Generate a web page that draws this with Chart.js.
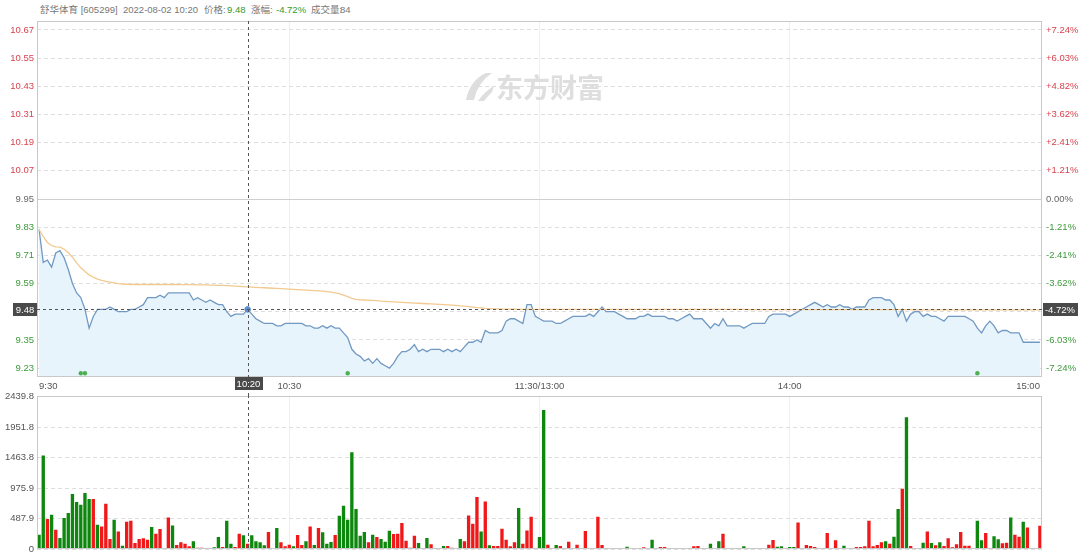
<!DOCTYPE html>
<html><head><meta charset="utf-8">
<script src="https://cdn.jsdelivr.net/npm/chart.js@4.4.0/dist/chart.umd.min.js"></script>
<style>
html,body{margin:0;padding:0;background:#fff;width:1080px;height:559px;overflow:hidden;font-family:'Liberation Sans','Noto Sans CJK SC',sans-serif;}
#hdr{position:absolute;left:0;top:0;width:1080px;height:20px;font-size:9.5px;color:#777;}
#hdr span{position:absolute;top:4px;line-height:12px;white-space:nowrap;}
#hdr .g{color:#2f9a2f}
#c1{position:absolute;left:0;top:0;}
#c2{position:absolute;left:0;top:387px;}
</style></head>
<body>
<div id="hdr">
<span style="left:40px">舒华体育 [605299]</span>
<span style="left:123px">2022-08-02 10:20</span>
<span style="left:204px">价格:</span><span class="g" style="left:227px">9.48</span>
<span style="left:251px">涨幅:</span><span class="g" style="left:276px">-4.72%</span>
<span style="left:311px">成交量:</span><span style="left:340px">84</span>
</div>
<canvas id="c1" width="1080" height="395"></canvas>
<canvas id="c2" width="1080" height="172"></canvas>
<script>
// ---------- DATA ----------
const prevClose = 9.95;
const priceTicks = [10.67,10.55,10.43,10.31,10.19,10.07,9.95,9.83,9.71,9.59,9.47,9.35,9.23];
const priceTickLabels = ['10.67','10.55','10.43','10.31','10.19','10.07','9.95','9.83','9.71','9.59','9.47','9.35','9.23'];
const pctTickLabels = ['+7.24%','+6.03%','+4.82%','+3.62%','+2.41%','+1.21%','0.00%','-1.21%','-2.41%','-3.62%','-4.82%','-6.03%','-7.24%'];
const volTicks = [0,487.9,975.9,1463.8,1951.8,2439.8];
const volTickLabels = ['0','487.9','975.9','1463.8','1951.8','2439.8'];
const xTickIdx = [0,60,120,180,240];
const xTickLabels = ['9:30','10:30','11:30/13:00','14:00','15:00'];

const price = [
9.82,9.68,9.69,9.66,9.72,9.73,9.70,9.65,9.59,9.55,
9.53,9.48,9.40,9.45,9.48,9.48,9.48,9.49,9.48,9.47,
9.47,9.47,9.48,9.48,9.49,9.50,9.53,9.53,9.53,9.54,
9.53,9.55,9.55,9.55,9.55,9.55,9.55,9.52,9.53,9.52,
9.51,9.52,9.51,9.50,9.50,9.47,9.45,9.46,9.46,9.46,
9.48,9.46,9.44,9.43,9.42,9.42,9.42,9.41,9.41,9.42,
9.42,9.42,9.42,9.42,9.41,9.41,9.40,9.40,9.41,9.40,
9.41,9.40,9.40,9.38,9.36,9.31,9.29,9.28,9.26,9.27,
9.25,9.27,9.25,9.24,9.23,9.25,9.28,9.30,9.30,9.31,
9.33,9.30,9.31,9.30,9.31,9.31,9.31,9.30,9.31,9.30,
9.31,9.30,9.32,9.34,9.34,9.35,9.34,9.39,9.38,9.38,
9.38,9.39,9.43,9.44,9.44,9.43,9.42,9.50,9.50,9.45,
9.44,9.43,9.43,9.43,9.42,9.42,9.43,9.44,9.45,9.45,
9.45,9.45,9.46,9.45,9.47,9.49,9.47,9.47,9.47,9.46,
9.45,9.44,9.44,9.44,9.45,9.45,9.46,9.45,9.45,9.45,
9.45,9.44,9.44,9.43,9.44,9.45,9.46,9.44,9.44,9.44,
9.42,9.40,9.42,9.41,9.44,9.41,9.41,9.41,9.41,9.40,
9.41,9.42,9.42,9.42,9.42,9.45,9.46,9.46,9.46,9.46,
9.45,9.46,9.47,9.48,9.49,9.50,9.51,9.50,9.49,9.50,
9.49,9.49,9.50,9.49,9.49,9.48,9.49,9.49,9.49,9.52,
9.53,9.53,9.53,9.52,9.52,9.50,9.45,9.48,9.43,9.46,
9.47,9.47,9.45,9.46,9.45,9.45,9.44,9.43,9.45,9.45,
9.45,9.45,9.45,9.44,9.43,9.40,9.38,9.41,9.43,9.41,
9.38,9.39,9.39,9.38,9.38,9.38,9.34,9.34,9.34,9.34,
9.34];

const avgPrice = [
9.82,9.79,9.765,9.752,9.746,9.745,9.736,9.722,9.702,9.678,
9.657,9.641,9.627,9.617,9.609,9.604,9.599,9.596,9.593,9.590,
9.588,9.587,9.586,9.586,9.586,9.586,9.586,9.586,9.586,9.586,
9.586,9.586,9.586,9.586,9.585,9.585,9.585,9.585,9.584,9.584,
9.584,9.583,9.583,9.582,9.582,9.581,9.580,9.579,9.578,9.577,
9.576,9.575,9.574,9.573,9.572,9.571,9.570,9.569,9.568,9.567,
9.566,9.565,9.564,9.563,9.562,9.561,9.560,9.559,9.558,9.556,
9.553,9.550,9.547,9.541,9.534,9.527,9.523,9.521,9.520,9.519,
9.518,9.517,9.515,9.514,9.513,9.512,9.511,9.510,9.509,9.508,
9.507,9.506,9.505,9.504,9.503,9.502,9.501,9.500,9.499,9.498,
9.497,9.495,9.494,9.492,9.490,9.487,9.486,9.484,9.483,9.482,
9.482,9.481,9.481,9.481,9.481,9.480,9.480,9.480,9.480,9.480,
9.480,9.480,9.480,9.480,9.480,9.480,9.480,9.480,9.480,9.480,
9.480,9.480,9.480,9.480,9.480,9.480,9.480,9.480,9.480,9.480,
9.480,9.480,9.480,9.480,9.480,9.480,9.480,9.480,9.480,9.480,
9.480,9.480,9.480,9.480,9.480,9.480,9.480,9.480,9.480,9.480,
9.480,9.480,9.480,9.480,9.480,9.480,9.480,9.480,9.480,9.480,
9.479,9.479,9.479,9.479,9.479,9.479,9.479,9.479,9.479,9.479,
9.479,9.479,9.479,9.479,9.479,9.479,9.479,9.479,9.479,9.479,
9.479,9.479,9.479,9.479,9.479,9.479,9.479,9.479,9.479,9.479,
9.479,9.479,9.479,9.479,9.479,9.479,9.479,9.479,9.479,9.479,
9.478,9.478,9.478,9.478,9.478,9.478,9.478,9.478,9.478,9.478,
9.478,9.478,9.478,9.478,9.478,9.478,9.478,9.478,9.478,9.478,
9.478,9.478,9.478,9.478,9.478,9.478,9.478,9.478,9.478,9.478,
9.478];

const volume = [
229,1498,480,549,309,176,496,576,880,752,
709,896,800,800,389,362,725,160,469,282,
53,437,453,96,160,171,149,352,245,320,
11,506,378,64,107,85,43,123,21,21,
5,16,27,192,32,453,85,32,245,219,
84,219,123,107,59,272,16,336,107,43,
69,43,224,64,123,362,64,336,267,85,
112,224,533,693,469,1551,640,213,272,107,
229,192,160,117,293,240,245,416,133,21,
213,96,5,176,75,11,5,48,48,21,
5,160,123,538,405,832,282,762,59,48,
48,325,149,43,107,656,85,298,517,5,
192,2228,69,16,64,48,5,117,8,69,
8,288,16,5,517,64,8,5,5,5,
16,37,8,5,16,27,11,149,11,32,
32,16,11,8,11,11,16,43,48,16,
11,85,16,123,245,11,11,5,5,43,
16,5,11,11,16,69,144,37,43,5,
32,32,426,5,64,48,32,11,5,256,
11,139,5,53,5,5,32,32,43,453,
43,64,107,123,85,197,640,965,2111,48,
5,5,101,282,96,59,107,48,171,27,
75,272,53,53,5,453,139,256,11,203,
155,91,101,506,229,197,437,346,0,0,
373];

// r = up minute (red), g = down minute (green)
const volDir = (
'ggrgrggggg'+'gggrgrrrgr'+'grrrrrrgrr'+'grgrrrrgrr'+'rrggrggrrg'+
'rggggrrgrr'+'rgrrgrgrgg'+'grgggggggr'+'grgggrrrrr'+'rgggrrrgrr'+
'rgrrrrgrgr'+'rrrrrgrrrr'+'ggrrgrrrrr'+'rrrrrrrrrr'+'ggrrrrrgrr'+
'rrrrrrrrrr'+'rgrgrrgrrg'+'grrrrrrggr'+'ggrrrrrrrr'+'rrrgrrrrrr'+
'rrrgrggrgr'+'rrgrgrgrrr'+'rrrrrggrrg'+'grrgrrgrrr'+'r').split('');

const markerIdx = [10, 11, 74, 225];
const markerLevel = 9.208;

const crossIdx = 50;
const crossPrice = 9.48;
const crossPriceLabel = '9.48';
const crossPctLabel = '-4.72%';
const crossTimeLabel = '10:20';
const watermarkText = '东方财富';

// time categories 9:30-11:30, 13:01-15:00
const times = [];
for (let t = 570; t <= 690; t++) times.push(Math.floor(t/60) + ':' + String(t%60).padStart(2,'0'));
for (let t = 781; t <= 900; t++) times.push(Math.floor(t/60) + ':' + String(t%60).padStart(2,'0'));

// ---------- STYLE ----------
const FONT = "'Liberation Sans','Noto Sans CJK SC',sans-serif";
const RED_T = '#d9434e', GREEN_T = '#3c9a3c', GRAY_T = '#666';
const tickColor = (v) => v > prevClose + 1e-9 ? RED_T : (v < prevClose - 1e-9 ? GREEN_T : GRAY_T);
const PMIN = 9.192, PMAX = 10.708;
const gridV = (ctx) => (ctx.tick && (ctx.tick.value === 0 || ctx.tick.value === 240)) ? 'rgba(0,0,0,0)' : '#efefef';

function drawBox(ctx, cx, cy, w, h, text) {
  ctx.fillStyle = '#4a4a4a';
  ctx.fillRect(Math.round(cx - w/2), Math.round(cy - h/2), w, h);
  ctx.fillStyle = '#fff';
  ctx.font = '9.5px ' + FONT;
  ctx.textAlign = 'center'; ctx.textBaseline = 'middle';
  ctx.fillText(text, cx, cy + 0.5);
}

const pricePlugin = {
  id: 'pricePlugin',
  beforeDatasetsDraw(chart) {
    const {ctx, chartArea: a, scales} = chart;
    ctx.save();
    // watermark
    ctx.fillStyle = '#dedede';
    ctx.font = "bold 27px 'Noto Sans CJK SC'";
    ctx.textAlign = 'left'; ctx.textBaseline = 'middle';
    ctx.fillText(watermarkText, 496, 88);
    ctx.beginPath();
    ctx.moveTo(466, 100); ctx.quadraticCurveTo(470, 80, 486, 73); ctx.lineTo(492, 73);
    ctx.quadraticCurveTo(478, 82, 474, 100); ctx.closePath(); ctx.fill();
    ctx.beginPath();
    ctx.moveTo(478, 101); ctx.quadraticCurveTo(486, 90, 494, 86); ctx.lineTo(492, 92);
    ctx.quadraticCurveTo(488, 96, 484, 101); ctx.closePath(); ctx.fill();
    // previous close solid line
    const y0 = Math.round(scales.y.getPixelForValue(prevClose)) + 0.5;
    ctx.strokeStyle = '#cfcfcf'; ctx.lineWidth = 1;
    ctx.beginPath(); ctx.moveTo(a.left, y0); ctx.lineTo(a.right, y0); ctx.stroke();
    ctx.restore();
  },
  afterDraw(chart) {
    const {ctx, chartArea: a, scales} = chart;
    ctx.save();
    ctx.strokeStyle = '#c8c8c8'; ctx.lineWidth = 1;
    ctx.strokeRect(Math.round(a.left) + 0.5, Math.round(a.top) + 0.5, Math.round(a.right - a.left) - 1, Math.round(a.bottom - a.top) - 1);
    const cx = Math.round(scales.x.getPixelForValue(crossIdx)) + 0.5;
    const cy = Math.round(scales.y.getPixelForValue(crossPrice)) + 0.5;
    ctx.strokeStyle = '#555'; ctx.setLineDash([3, 3]);
    ctx.beginPath(); ctx.moveTo(cx, a.top); ctx.lineTo(cx, chart.height); ctx.stroke();
    ctx.beginPath(); ctx.moveTo(a.left, cy); ctx.lineTo(a.right, cy); ctx.stroke();
    ctx.setLineDash([]);
    drawBox(ctx, a.left - 12, cy, 24, 13, crossPriceLabel);
    drawBox(ctx, a.right + 18, cy, 35, 13, crossPctLabel);
    drawBox(ctx, cx, a.bottom + 6.5, 28, 13, crossTimeLabel);
    ctx.restore();
  }
};

const volPlugin = {
  id: 'volPlugin',
  afterDraw(chart) {
    const {ctx, chartArea: a, scales} = chart;
    ctx.save();
    ctx.strokeStyle = '#c8c8c8'; ctx.lineWidth = 1;
    ctx.strokeRect(Math.round(a.left) + 0.5, Math.round(a.top) + 0.5, Math.round(a.right - a.left) - 1, Math.round(a.bottom - a.top) - 1);
    const cx = Math.round(scales.x.getPixelForValue(crossIdx)) + 0.5;
    ctx.strokeStyle = '#555'; ctx.setLineDash([3, 3]);
    ctx.beginPath(); ctx.moveTo(cx, 8); ctx.lineTo(cx, a.bottom); ctx.stroke();
    ctx.restore();
  }
};

const xAxisCommon = {
  type: 'category',
  offset: true,
  afterBuildTicks: (s) => { s.ticks = xTickIdx.map(v => ({value: v})); },
  grid: {offset: false, drawTicks: false, color: gridV, lineWidth: 1},
  border: {display: false}
};

new Chart(document.getElementById('c1'), {
  type: 'line',
  data: {
    labels: times,
    datasets: [
      {data: price, borderColor: '#7199c2', borderWidth: 1.3, pointRadius: 0, tension: 0,
       fill: 'start', backgroundColor: '#e8f4fc', order: 4},
      {data: avgPrice, borderColor: '#f2c98f', borderWidth: 1.3, pointRadius: 0, tension: 0, fill: false, order: 3},
      {data: markerIdx.map(i => ({x: times[i], y: markerLevel})), showLine: false, pointRadius: 2.2,
       pointBackgroundColor: '#4caf50', pointBorderColor: '#4caf50', pointBorderWidth: 0, order: 2},
      {data: [{x: times[crossIdx], y: crossPrice}], showLine: false, pointRadius: 2.8,
       pointBackgroundColor: '#5a8fd0', pointBorderColor: '#5a8fd0', order: 1}
    ]
  },
  options: {
    responsive: false, animation: false, devicePixelRatio: 1,
    layout: {padding: {top: 21, left: 0, right: 0, bottom: 0}},
    plugins: {legend: {display: false}, tooltip: {enabled: false}},
    scales: {
      x: Object.assign({}, xAxisCommon, {
        afterFit: (s) => { s.height = 18; },
        ticks: {autoSkip: false, maxRotation: 0, minRotation: 0, align: 'inner', padding: 4,
                color: '#555', font: {family: FONT, size: 9.5},
                callback: (v, i) => xTickLabels[i]}
      }),
      y: {
        type: 'linear', position: 'left', min: PMIN, max: PMAX,
        afterBuildTicks: (s) => { s.ticks = priceTicks.map(v => ({value: v})); },
        afterFit: (s) => { s.width = 37; },
        grid: {color: '#dedede', drawTicks: false, lineWidth: 1},
        border: {display: false, dash: [4, 3]},
        ticks: {padding: 3, font: {family: FONT, size: 9.5},
                color: (c) => tickColor(c.tick ? c.tick.value : prevClose),
                callback: (v, i) => priceTickLabels[i]}
      },
      y2: {
        type: 'linear', position: 'right', min: PMIN, max: PMAX,
        afterBuildTicks: (s) => { s.ticks = priceTicks.map(v => ({value: v})); },
        afterFit: (s) => { s.width = 38; },
        grid: {display: false, drawTicks: false},
        border: {display: false},
        ticks: {padding: 4, font: {family: FONT, size: 9.5},
                color: (c) => tickColor(c.tick ? c.tick.value : prevClose),
                callback: (v, i) => pctTickLabels[i]}
      }
    }
  },
  plugins: [pricePlugin]
});

new Chart(document.getElementById('c2'), {
  type: 'bar',
  data: {
    labels: times,
    datasets: [{
      data: volume,
      backgroundColor: volDir.map(d => d === 'r' ? '#f01818' : '#0d870d'),
      borderWidth: 0, categoryPercentage: 1, barPercentage: 0.8
    }]
  },
  options: {
    responsive: false, animation: false, devicePixelRatio: 1,
    layout: {padding: {top: 2.7, left: 0, right: 38, bottom: 0}},
    plugins: {legend: {display: false}, tooltip: {enabled: false}},
    scales: {
      x: Object.assign({}, xAxisCommon, {
        afterFit: (s) => { s.height = 10; },
        ticks: {display: false, autoSkip: false}
      }),
      y: {
        type: 'linear', position: 'left', min: 0, max: 2456,
        afterBuildTicks: (s) => { s.ticks = volTicks.map(v => ({value: v})); },
        afterFit: (s) => { s.width = 37; },
        grid: {color: '#dedede', drawTicks: false, lineWidth: 1},
        border: {display: false, dash: [4, 3]},
        ticks: {padding: 3, color: '#555', font: {family: FONT, size: 9.5},
                callback: (v, i) => volTickLabels[i]}
      }
    }
  },
  plugins: [volPlugin]
});
</script>
</body></html>
